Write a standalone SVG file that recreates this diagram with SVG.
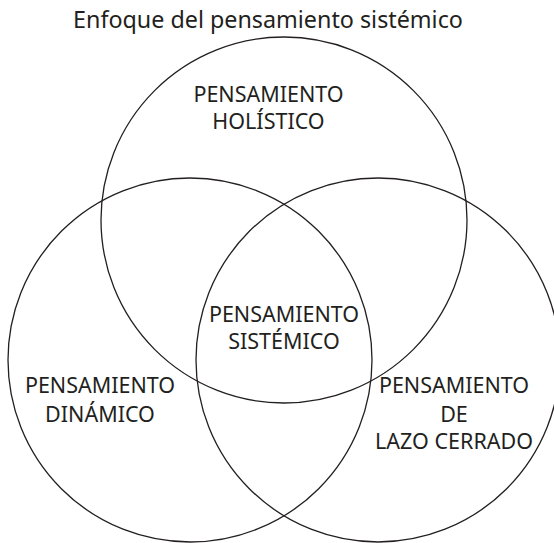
<svg xmlns="http://www.w3.org/2000/svg" width="554" height="543" viewBox="0 0 554 543">
<style>
.c{fill:none;stroke:#231f20;stroke-width:1.3}
.t{font-family:"Noto Sans","Open Sans",sans-serif;font-size:21.5px;fill:#231f20;text-anchor:middle}
.h{font-family:"Noto Sans","Open Sans",sans-serif;font-size:23.3px;fill:#231f20;text-anchor:middle}
</style>
<rect width="554" height="543" fill="#fff"/>
<text class="h" x="268" y="28">Enfoque del pensamiento sistémico</text>
<g id="connectors"></g>
<g id="holistico">
<circle class="c" cx="284" cy="220" r="183"/>
<text class="t" x="268.5" y="102">PENSAMIENTO</text>
<text class="t" x="268.5" y="129">HOLÍSTICO</text>
</g>
<g id="dinamico">
<circle class="c" cx="190" cy="360" r="182"/>
<text class="t" x="100" y="393">PENSAMIENTO</text>
<text class="t" x="100" y="422">DINÁMICO</text>
</g>
<g id="lazo">
<circle class="c" cx="378" cy="360" r="182"/>
<text class="t" x="454" y="393">PENSAMIENTO</text>
<text class="t" x="454" y="422">DE</text>
<text class="t" x="454" y="449">LAZO CERRADO</text>
</g>
<g id="sistemico">
<text class="t" x="284" y="322">PENSAMIENTO</text>
<text class="t" x="284" y="349">SISTÉMICO</text>
</g>
</svg>
